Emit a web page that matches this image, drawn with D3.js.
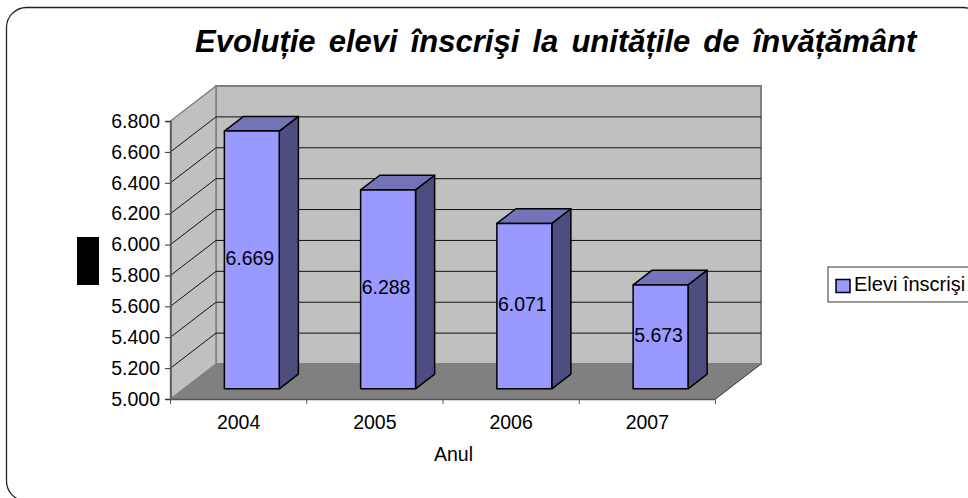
<!DOCTYPE html>
<html><head><meta charset="utf-8">
<script src="https://cdn.jsdelivr.net/npm/d3@7/dist/d3.min.js"></script>
<style>html,body{margin:0;padding:0;background:#fff;overflow:hidden}text{font-family:"Liberation Sans",Arial,sans-serif}</style>
</head><body><svg id="c" width="968" height="498"></svg>
<script>
const categories = ["2004","2005","2006","2007"];
const values = [6669,6288,6071,5673];
const valueLabels = ["6.669","6.288","6.071","5.673"];
const yTicks = [5000,5200,5400,5600,5800,6000,6200,6400,6600,6800];
const yTickLabels = ["5.000","5.200","5.400","5.600","5.800","6.000","6.200","6.400","6.600","6.800"];
const titleText = "Evoluție elevi înscrişi la unitățile de învățământ";
const xTitle = "Anul";
const seriesName = "Elevi înscrişi";

const svg = d3.select("#c");
const x = d3.scaleBand().domain(categories).range([170.5,715.5]).paddingInner(0).paddingOuter(0);
const y = d3.scaleLinear().domain([5000,6800]).range([399,121]);
const DX = 45.5, DY = 35;
const FS = 19.5;
const pth = pts => "M"+pts.map(p=>p.join(",")).join("L")+"Z";
const x0=x.range()[0], x1=x.range()[1], yB=y(5000), yT=y(6800);

svg.append("rect").attr("x",6.5).attr("y",7.5).attr("width",976.5).attr("height",493.5).attr("rx",20).attr("fill","#fff").attr("stroke","#222").attr("stroke-width",1.3);

// walls
svg.append("path").attr("d",pth([[x0+DX,yT-DY],[x1+DX,yT-DY],[x1+DX,yB-DY],[x0+DX,yB-DY]])).attr("fill","#c0c0c0").attr("stroke","#808080").attr("stroke-width",2);
svg.append("path").attr("d",pth([[x0,yT],[x0+DX,yT-DY],[x0+DX,yB-DY],[x0,yB]])).attr("fill","#c0c0c0").attr("stroke","#808080").attr("stroke-width",1.5);
svg.append("path").attr("d",pth([[x0,yB],[x0+DX,yB-DY],[x1+DX,yB-DY],[x1,yB]])).attr("fill","#808080");

// grid
const grid = svg.append("g").attr("fill","none").attr("stroke","#111").attr("stroke-width",1);
yTicks.slice(1,-1).forEach(t=>{
  grid.append("path").attr("d",`M${x0},${y(t)}L${x0+DX},${y(t)-DY}L${x1+DX},${y(t)-DY}`);
});

// axes
const axL = svg.append("g").attr("transform",`translate(${x0},0)`).call(d3.axisLeft(y).tickValues(yTicks).tickFormat((d,i)=>yTickLabels[i]).tickSize(5.5).tickPadding(5));
axL.select(".domain").attr("stroke","#555").attr("stroke-width",1.5);
axL.selectAll("line").attr("stroke","#333");
axL.selectAll("text").attr("font-size",FS).attr("fill","#000").style("font-family",'"Liberation Sans",Arial,sans-serif');
const axB = svg.append("g").attr("transform",`translate(0,${yB})`).call(d3.axisBottom(x).tickValues([]).tickSizeOuter(0));
axB.select(".domain").attr("stroke","#555").attr("stroke-width",1.5);
svg.append("g").selectAll("line").data(d3.range(categories.length+1)).join("line")
  .attr("x1",i=>x0+i*x.step()).attr("x2",i=>x0+i*x.step()).attr("y1",yB).attr("y2",yB+5).attr("stroke","#555");
svg.append("g").selectAll("text").data(categories).join("text")
  .attr("x",d=>x(d)+x.bandwidth()/2).attr("y",yB+29.5).attr("text-anchor","middle").attr("font-size",FS).attr("fill","#000").text(d=>d);

// floor edge to front-right
svg.append("line").attr("x1",x1).attr("y1",yB).attr("x2",x1+DX).attr("y2",yB-DY).attr("stroke","#333").attr("stroke-width",1);

// bars
const barW = x.bandwidth()*0.403, f0=0.29, f1=0.71;
const bars = svg.append("g").selectAll("g").data(categories).join("g");
bars.each(function(c,i){
  const g=d3.select(this), v=values[i];
  const l=x(c)+x.bandwidth()/2-barW/2+DX*f0, r=l+barW;
  const b=yB-DY*f0, t=y(v)-DY*f0;
  const ox=DX*(f1-f0), oy=DY*(f1-f0);
  const st=s=>s.attr("stroke","#000").attr("stroke-width",1.5).attr("stroke-linejoin","round");
  st(g.append("path").attr("d",pth([[r,t],[r+ox,t-oy],[r+ox,b-oy],[r,b]])).attr("fill","#4d4d80"));
  st(g.append("path").attr("d",pth([[l,t],[l+ox,t-oy],[r+ox,t-oy],[r,t]])).attr("fill","#7373b8"));
  st(g.append("path").attr("d",pth([[l,t],[r,t],[r,b],[l,b]])).attr("fill","#9999ff"));
  g.append("text").attr("x",(l+r)/2-2).attr("y",(t+b)/2+5).attr("text-anchor","middle").attr("font-size",FS).attr("fill","#000").text(valueLabels[i]);
});

// title
svg.append("text").attr("x",195).attr("y",52).attr("font-size",31).attr("font-weight","bold").attr("font-style","italic").attr("fill","#000").attr("word-spacing",4.5).text(titleText);
// axis title
svg.append("text").attr("x",453.5).attr("y",461).attr("text-anchor","middle").attr("font-size",FS).attr("fill","#000").text(xTitle);
// black box on the left
svg.append("rect").attr("x",77).attr("y",237).attr("width",22).attr("height",48).attr("fill","#000");
// legend
svg.append("rect").attr("x",828).attr("y",267).attr("width",160).attr("height",35).attr("fill","#fff").attr("stroke","#333").attr("stroke-width",1);
svg.append("rect").attr("x",836).attr("y",279.5).attr("width",14).attr("height",13).attr("fill","#9999ff").attr("stroke","#000").attr("stroke-width",1.5);
svg.append("text").attr("x",854).attr("y",291).attr("font-size",20).attr("fill","#000").text(seriesName);
</script></body></html>
